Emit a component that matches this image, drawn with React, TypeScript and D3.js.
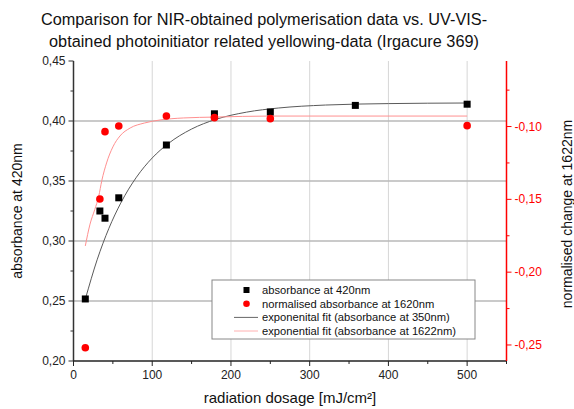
import React from "react";
import * as d3 from "d3";

const blackX = [15, 33.5, 40, 57.5, 118, 179, 250, 358, 500];
const blackY = [0.2517, 0.325, 0.319, 0.336, 0.38, 0.406, 0.4075, 0.413, 0.414];
const redX = [15, 33.5, 40, 57.5, 118, 179, 250, 500];
const redY = [-0.2519, -0.1498, -0.1035, -0.0996, -0.0928, -0.0939, -0.0946, -0.0994];

const blackFitX = [15, 30, 45, 60, 80, 100, 120, 150, 180, 220, 260, 320, 400, 500];
const blackFitY = [0.2515, 0.2843, 0.3106, 0.3316, 0.3532, 0.3692, 0.381, 0.3933, 0.4012, 0.4074, 0.4108, 0.4133, 0.4145, 0.415];
const redFitX = [15, 21, 27, 32, 36, 42, 50, 59, 72, 90, 110, 140, 180, 250, 350, 500];
const redFitY = [-0.182, -0.167, -0.157, -0.148, -0.137, -0.125, -0.114, -0.1065, -0.101, -0.0976, -0.0955, -0.0941, -0.0935, -0.0928, -0.0928, -0.0928];

const xTicks = [0, 100, 200, 300, 400, 500];
const xMinor = [50, 150, 250, 350, 450, 550];
const yLTicks = [0.2, 0.25, 0.3, 0.35, 0.4, 0.45];
const yLMinor = [0.225, 0.275, 0.325, 0.375, 0.425];
const yRTicks = [-0.25, -0.2, -0.15, -0.1];
const yRMinor = [-0.225, -0.175, -0.125, -0.075];

const titleLines = [
  "Comparison for NIR-obtained polymerisation data vs. UV-VIS-",
  "obtained photoinitiator related yellowing-data (Irgacure 369)",
];
const legendLabels = [
  "absorbance at 420nm",
  "normalised absorbance at 1620nm",
  "exponenital fit (absorbance at 350nm)",
  "exponential fit (absorbance at 1622nm)",
];

const FONT = "Liberation Sans, Arial, sans-serif";
const fmt = (v: number) => v.toFixed(2).replace(".", ",");

export default function App() {
  const L = 73.5, R = 506.5, T = 61, B = 361;
  const x = d3.scaleLinear().domain([0, 550]).range([L, R]);
  const yL = d3.scaleLinear().domain([0.2, 0.45]).range([B, T]);
  const yR = d3.scaleLinear().domain([-0.261, -0.055]).range([B, T]);

  const blackLine = d3
    .line<number>()
    .x((_, i) => x(blackFitX[i]))
    .y((d) => yL(d))
    .curve(d3.curveMonotoneX)(blackFitY) as string;
  const redLine = d3
    .line<number>()
    .x((_, i) => x(redFitX[i]))
    .y((d) => yR(d))
    .curve(d3.curveMonotoneX)(redFitY) as string;

  const lgX = 212, lgY = 280, lgW = 263, lgH = 59;
  const rowY = [290, 303.7, 317.4, 331];

  return (
    <svg
      width={574}
      height={409}
      style={{ position: "absolute", left: 0, top: 0, background: "#fff" }}
      fontFamily={FONT}
    >
      <rect x={0} y={0} width={574} height={409} fill="#fff" />
      {/* title */}
      {titleLines.map((t, i) => (
        <text key={i} x={264} y={25 + i * 22} textAnchor="middle" fontSize={16.3} fill="#111">
          {t}
        </text>
      ))}
      {/* grid */}
      {xTicks.filter((v) => v > 0).map((v) => (
        <line key={"gx" + v} x1={x(v)} x2={x(v)} y1={T} y2={B} stroke="#d6d6d6" strokeWidth={1} />
      ))}
      {yLTicks.filter((v) => v > 0.2 && v < 0.45).map((v) => (
        <line key={"gy" + v} x1={L} x2={R} y1={yL(v)} y2={yL(v)} stroke="#b8b8b8" strokeWidth={1.5} />
      ))}
      {/* fits */}
      <path d={blackLine} fill="none" stroke="#5a5a5a" strokeWidth={1} />
      <path d={redLine} fill="none" stroke="#ff9090" strokeWidth={1} />
      {/* points */}
      {blackY.map((v, i) => (
        <rect key={"b" + i} x={x(blackX[i]) - 3.5} y={yL(v) - 3.5} width={7} height={7} fill="#000" />
      ))}
      {redY.map((v, i) => (
        <circle key={"r" + i} cx={x(redX[i])} cy={yR(v)} r={3.8} fill="#ff0000" />
      ))}
      {/* legend */}
      <rect x={lgX} y={lgY} width={lgW} height={lgH} fill="#fff" stroke="#888" strokeWidth={1} />
      <rect x={246.5 - 3} y={rowY[0] - 3} width={6} height={6} fill="#000" />
      <circle cx={246.5} cy={rowY[1]} r={3.3} fill="#ff0000" />
      <line x1={234} x2={258} y1={rowY[2]} y2={rowY[2]} stroke="#666" strokeWidth={1} />
      <line x1={234} x2={258} y1={rowY[3]} y2={rowY[3]} stroke="#ffb0b0" strokeWidth={1} />
      {legendLabels.map((t, i) => (
        <text key={"lg" + i} x={262} y={rowY[i] + 4} fontSize={11.2} fill="#111">
          {t}
        </text>
      ))}
      {/* left axis */}
      <line x1={L} x2={L} y1={T} y2={B} stroke="#333" strokeWidth={1.5} />
      {yLTicks.map((v) => (
        <g key={"lt" + v}>
          <line x1={L - 5} x2={L} y1={yL(v)} y2={yL(v)} stroke="#333" strokeWidth={1} />
          <text x={L - 8} y={yL(v) + 4} textAnchor="end" fontSize={12} fill="#222">
            {fmt(v)}
          </text>
        </g>
      ))}
      {yLMinor.map((v) => (
        <line key={"lm" + v} x1={L - 3} x2={L} y1={yL(v)} y2={yL(v)} stroke="#333" strokeWidth={1} />
      ))}
      {/* bottom axis */}
      <line x1={L} x2={R} y1={B} y2={B} stroke="#222" strokeWidth={1.5} />
      {xTicks.map((v) => (
        <g key={"bt" + v}>
          <line x1={x(v)} x2={x(v)} y1={B} y2={B + 5} stroke="#222" strokeWidth={1} />
          <text x={x(v)} y={B + 18} textAnchor="middle" fontSize={12} fill="#222">
            {v}
          </text>
        </g>
      ))}
      {xMinor.map((v) => (
        <line key={"bm" + v} x1={x(v)} x2={x(v)} y1={B} y2={B + 3} stroke="#222" strokeWidth={1} />
      ))}
      {/* right axis */}
      <line x1={R} x2={R} y1={T} y2={B} stroke="#ff0000" strokeWidth={1.5} />
      {yRTicks.map((v) => (
        <g key={"rt" + v}>
          <line x1={R} x2={R + 5} y1={yR(v)} y2={yR(v)} stroke="#ff0000" strokeWidth={1} />
          <text x={R + 8} y={yR(v) + 4} textAnchor="start" fontSize={12} fill="#ff0000">
            {fmt(v)}
          </text>
        </g>
      ))}
      {yRMinor.map((v) => (
        <line key={"rm" + v} x1={R} x2={R + 3} y1={yR(v)} y2={yR(v)} stroke="#ff0000" strokeWidth={1} />
      ))}
      {/* axis titles */}
      <text x={290} y={403} textAnchor="middle" fontSize={15} fill="#111">
        radiation dosage [mJ/cm²]
      </text>
      <text transform="translate(22,211) rotate(-90)" textAnchor="middle" fontSize={14} fill="#111">
        absorbance at 420nm
      </text>
      <text transform="translate(572,214) rotate(-90)" textAnchor="middle" fontSize={14} fill="#111">
        normalised change at 1622nm
      </text>
    </svg>
  );
}
